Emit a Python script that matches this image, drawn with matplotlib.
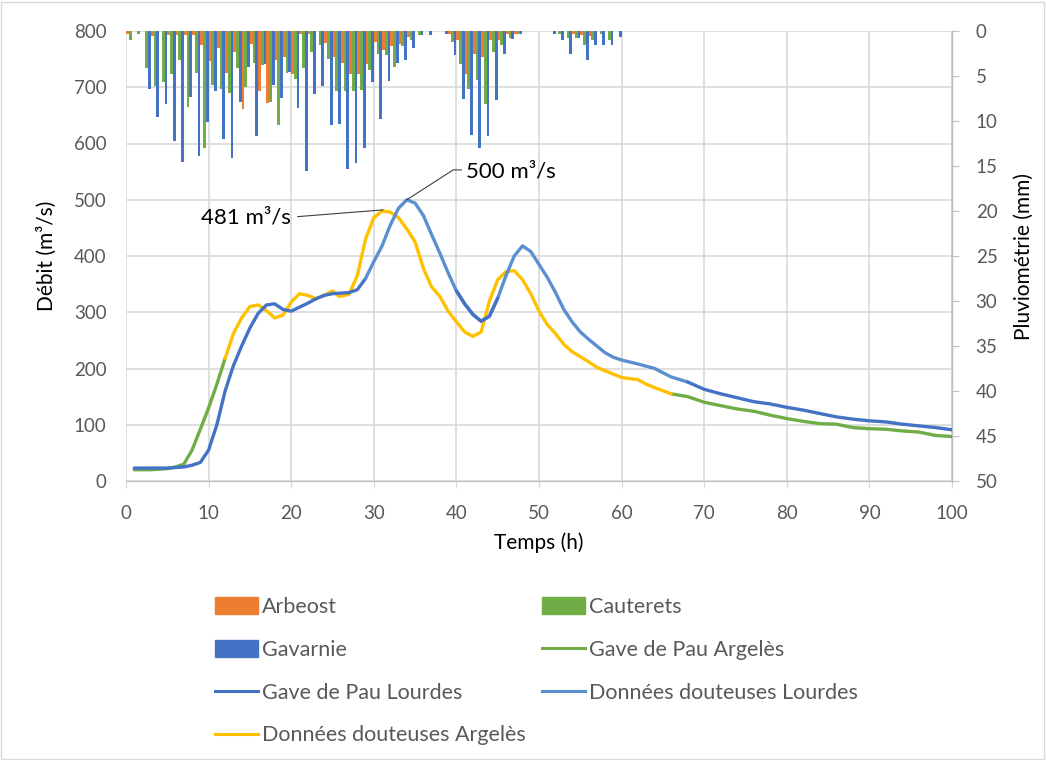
import matplotlib
matplotlib.use("Agg")
import matplotlib.pyplot as plt
import numpy as np
from matplotlib.patches import Patch, Rectangle
from matplotlib.lines import Line2D

plt.rcParams["font.family"] = ["Lato", "DejaVu Sans"]

# --- rainfall (mm per hour), hour h = 0..59 ---
hours = np.arange(60)
arbeost = [0.3, 0, 0, 0.6, 0, 0.4, 0.4, 0.4, 0.4, 1.6,
           3.3, 1.9, 4.7, 2.3, 8.7, 1.4, 6.7, 8.0, 3.2, 2.9,
           4.8, 0.3, 0.3, 0, 1.3, 2.9, 3.6, 4.8, 4.8, 3.7,
           1.2, 2.1, 1.7, 1.4, 0.7, 0, 0, 0, 0, 0.3,
           1.0, 4.8, 2.5, 2.9, 1.0, 1.0, 0.3, 0.3, 0, 0,
           0, 0, 0, 0, 0.3, 0.4, 0.6, 0, 0, 0]
cauterets = [1.0, 0.3, 4.1, 6.1, 5.7, 4.8, 3.2, 8.4, 4.7, 13.0,
             6.0, 6.4, 6.9, 4.1, 6.2, 3.5, 3.8, 7.9, 10.4, 4.7,
             5.3, 4.1, 2.3, 1.6, 3.1, 6.7, 6.7, 6.7, 6.6, 4.3,
             2.5, 2.7, 4.0, 1.7, 1.0, 0.4, 0, 0, 0, 1.2,
             3.7, 6.4, 5.4, 8.1, 2.3, 1.5, 0.8, 0.3, 0, 0,
             0, 0, 0.3, 0.8, 0.8, 1.6, 1.0, 0.3, 1.0, 0]
gavarnie = [0, 0, 6.4, 9.6, 8.1, 12.2, 14.6, 7.3, 13.9, 10.1,
            6.7, 12.0, 14.1, 7.9, 4.0, 11.7, 3.7, 6.0, 7.4, 4.5,
            8.5, 15.6, 7.0, 6.1, 10.4, 10.3, 15.3, 14.7, 13.0, 5.7,
            9.8, 5.6, 3.6, 3.2, 1.9, 0.4, 0.4, 0, 0.3, 2.7,
            7.6, 11.6, 13.0, 11.7, 7.7, 2.5, 0.9, 0.3, 0, 0,
            0, 0.3, 1.0, 2.5, 0.8, 3.2, 1.6, 1.5, 1.6, 0.7]

# --- discharge (m3/s) ---
lourdes_t = [1, 3, 5, 7, 8, 9, 10, 11, 12, 13, 14, 15, 16, 17, 18, 19, 20,
             21, 22, 23, 24, 25, 26, 27, 28, 29, 30, 31, 32, 33, 34, 35, 36,
             37, 38, 39, 40, 41, 42, 43, 44, 45, 46, 47, 48, 49, 50, 51, 52,
             53, 54, 55, 56, 57, 58, 59, 60, 62, 64, 66, 68, 70, 72, 74, 76,
             78, 80, 82, 84, 86, 88, 90, 92, 94, 96, 98, 100]
lourdes_q = [23, 23, 23, 25, 28, 33, 55, 100, 160, 205, 240, 272, 298, 313,
             315, 305, 302, 309, 316, 324, 330, 333, 334, 335, 340, 360, 390,
             418, 455, 485, 500, 494, 472, 438, 405, 370, 338, 315, 296, 284,
             293, 325, 365, 400, 418, 408, 385, 362, 335, 305, 283, 265, 252,
             240, 228, 220, 215, 208, 200, 185, 176, 163, 155, 148, 141, 137,
             131, 126, 120, 114, 110, 107, 105, 101, 98, 95, 91]

argeles_t = [1, 3, 5, 6, 7, 8, 9, 10, 11, 12, 13, 14, 15, 16, 17, 18, 19, 20,
             21, 22, 23, 24, 25, 25.8, 27, 28, 29, 30, 31, 32, 33, 34, 35, 36,
             37, 38, 39, 40, 41, 42, 43, 44, 45, 46, 47, 48, 49, 50, 51, 52,
             53, 54, 55, 56, 57, 58, 59, 60, 61, 62, 63, 64, 66, 68, 70, 72,
             74, 76, 78, 80, 82, 84, 86, 88, 90, 92, 94, 96, 98, 100]
argeles_q = [20, 20, 22, 25, 30, 55, 92, 130, 172, 218, 262, 290, 310, 313,
             303, 290, 295, 318, 333, 330, 324, 330, 338, 328, 332, 365, 430,
             468, 480, 478, 468, 448, 425, 378, 345, 328, 302, 283, 265, 257,
             265, 320, 358, 372, 374, 358, 333, 302, 278, 262, 243, 230, 221,
             212, 202, 196, 190, 184, 182, 180, 172, 166, 155, 150, 140, 134,
             128, 124, 117, 111, 106, 102, 101, 95, 93, 92, 89, 87, 81, 79]

BLUE = "#4472C4"
LIGHT_BLUE = "#5B8FD0"
GREEN = "#70AD47"
ORANGE = "#ED7D31"
YELLOW = "#FFC000"
GRID = "#D9D9D9"
TXT = "#595959"

fig = plt.figure(figsize=(10.46, 7.6), dpi=100)
fig.patches.append(Rectangle((0.001, 0.001), 0.997, 0.997, transform=fig.transFigure,
                             fill=False, ec=GRID, lw=1))
ax = fig.add_axes([126 / 1046, 1 - 481 / 760, 826 / 1046, 450 / 760])

lt = np.array(lourdes_t, dtype=float)
lq = np.array(lourdes_q, dtype=float)
at = np.array(argeles_t, dtype=float)
aq = np.array(argeles_q, dtype=float)


def seg(t, q, a, b):
    m = (t >= a) & (t <= b)
    return t[m], q[m]


line_kw = dict(lw=2.4, solid_capstyle="round", solid_joinstyle="round")
# Argelès: measured (green) / doubtful (yellow)
ax.plot(*seg(at, aq, 1, 12), color=GREEN, **line_kw)
ax.plot(*seg(at, aq, 66, 100), color=GREEN, **line_kw)
ax.plot(*seg(at, aq, 12, 66), color=YELLOW, **line_kw)
# Lourdes: measured (dark blue) / doubtful (light blue)
ax.plot(*seg(lt, lq, 1, 29), color=BLUE, **line_kw)
ax.plot(*seg(lt, lq, 29, 68), color=LIGHT_BLUE, **line_kw)
ax.plot(*seg(lt, lq, 40, 45), color=BLUE, **line_kw)
ax.plot(*seg(lt, lq, 68, 100), color=BLUE, **line_kw)

# peak labels
ax.plot([20.8, 31.1], [470, 482], color="#404040", lw=0.8)
ax.text(20.0, 469, "481 m³/s", ha="right", va="center", fontsize=16, color="black")
ax.plot([34.0, 39.6, 40.6], [500, 553, 553], color="#404040", lw=0.8)
ax.text(41.2, 551, "500 m³/s", ha="left", va="center", fontsize=16, color="black")

ax.set_xlim(0, 100)
ax.set_ylim(0, 800)
ax.set_xticks(range(0, 101, 10))
ax.set_yticks(range(0, 801, 100))
ax.grid(color=GRID, lw=1.2)
ax.set_axisbelow(True)
ax.tick_params(axis="y", length=0, labelsize=13.5, labelcolor=TXT, pad=14)
ax.tick_params(axis="x", length=5, color=GRID, labelsize=13.5, labelcolor=TXT, pad=12)
for s in ["top", "left"]:
    ax.spines[s].set_visible(False)
ax.spines["bottom"].set_color("#BFBFBF")
ax.set_xlabel("Temps (h)", fontsize=15, labelpad=8)
ax.set_ylabel("Débit (m³/s)", fontsize=15, labelpad=12)

# rainfall on secondary axis, hanging from the top
ax2 = ax.twinx()
w = 1 / 3
ax2.bar(hours + 0.5 - w, arbeost, width=w, color=ORANGE)
ax2.bar(hours + 0.5, cauterets, width=w, color=GREEN)
ax2.bar(hours + 0.5 + w, gavarnie, width=w, color=BLUE)
ax2.set_ylim(50, 0)
ax2.set_yticks(range(0, 51, 5))
ax2.tick_params(axis="y", length=5, color="#BFBFBF", labelsize=13.5, labelcolor=TXT, pad=12)
for s in ["top", "left", "bottom"]:
    ax2.spines[s].set_visible(False)
ax2.spines["right"].set_color("#BFBFBF")
ax2.set_ylabel("Pluviométrie (mm)", fontsize=15, labelpad=12)

# legend, two columns filled row by row
leg_kw = dict(frameon=False, fontsize=15.5, labelcolor=TXT, handlelength=2.0,
              handleheight=0.8, handletextpad=0.2, labelspacing=1.06,
              borderpad=0, borderaxespad=0, loc="upper left")
left_h = [Patch(color=ORANGE), Patch(color=BLUE),
          Line2D([], [], color=BLUE, lw=2.2), Line2D([], [], color=YELLOW, lw=2.2)]
left_l = ["Arbeost", "Gavarnie", "Gave de Pau Lourdes", "Données douteuses Argelès"]
right_h = [Patch(color=GREEN), Line2D([], [], color=GREEN, lw=2.2),
           Line2D([], [], color=LIGHT_BLUE, lw=2.2)]
right_l = ["Cauterets", "Gave de Pau Argelès", "Données douteuses Lourdes"]
fig.legend(left_h, left_l, bbox_to_anchor=(215 / 1046, 1 - 597 / 760), **leg_kw)
fig.legend(right_h, right_l, bbox_to_anchor=(542 / 1046, 1 - 597 / 760), **leg_kw)

fig.savefig("out.png", dpi=100, facecolor="white")
